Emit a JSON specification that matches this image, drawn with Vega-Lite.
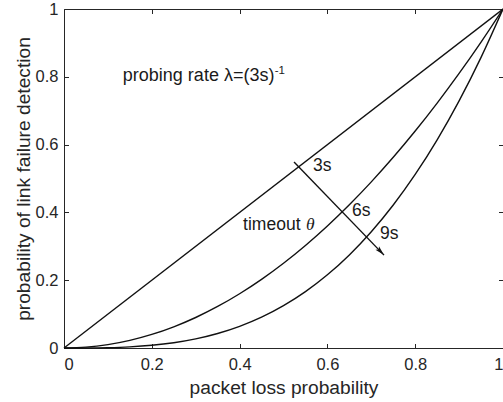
{
  "$schema": "https://vega.github.io/schema/vega-lite/v6.json",
  "width": 439,
  "height": 339,
  "autosize": "none",
  "padding": {"left": 64, "top": 9, "right": 0, "bottom": 54},
  "background": "white",
  "config": {
    "font": "Liberation Sans",
    "view": {"stroke": "#262626", "strokeWidth": 1},
    "axis": {
      "grid": false,
      "domain": false,
      "tickColor": "#262626",
      "tickWidth": 1,
      "tickSize": -4.5,
      "labelColor": "#262626",
      "labelFont": "Liberation Sans",
      "labelFontSize": 16.5,
      "titleColor": "#262626",
      "titleFont": "Liberation Sans",
      "titleFontSize": 19.2,
      "titleFontWeight": "normal"
    }
  },
  "datasets": {
    "curves": [
      {"p": 0, "d": 0, "t": "3s"},
      {"p": 1, "d": 1, "t": "3s"},
      {"p": 0, "d": 0, "t": "6s"},
      {"p": 0.05, "d": 0.0025, "t": "6s"},
      {"p": 0.1, "d": 0.01, "t": "6s"},
      {"p": 0.15, "d": 0.0225, "t": "6s"},
      {"p": 0.2, "d": 0.04, "t": "6s"},
      {"p": 0.25, "d": 0.0625, "t": "6s"},
      {"p": 0.3, "d": 0.09, "t": "6s"},
      {"p": 0.35, "d": 0.1225, "t": "6s"},
      {"p": 0.4, "d": 0.16, "t": "6s"},
      {"p": 0.45, "d": 0.2025, "t": "6s"},
      {"p": 0.5, "d": 0.25, "t": "6s"},
      {"p": 0.55, "d": 0.3025, "t": "6s"},
      {"p": 0.6, "d": 0.36, "t": "6s"},
      {"p": 0.65, "d": 0.4225, "t": "6s"},
      {"p": 0.7, "d": 0.49, "t": "6s"},
      {"p": 0.75, "d": 0.5625, "t": "6s"},
      {"p": 0.8, "d": 0.64, "t": "6s"},
      {"p": 0.85, "d": 0.7225, "t": "6s"},
      {"p": 0.9, "d": 0.81, "t": "6s"},
      {"p": 0.95, "d": 0.9025, "t": "6s"},
      {"p": 1, "d": 1, "t": "6s"},
      {"p": 0, "d": 0, "t": "9s"},
      {"p": 0.05, "d": 0.000125, "t": "9s"},
      {"p": 0.1, "d": 0.001, "t": "9s"},
      {"p": 0.15, "d": 0.003375, "t": "9s"},
      {"p": 0.2, "d": 0.008, "t": "9s"},
      {"p": 0.25, "d": 0.015625, "t": "9s"},
      {"p": 0.3, "d": 0.027, "t": "9s"},
      {"p": 0.35, "d": 0.042875, "t": "9s"},
      {"p": 0.4, "d": 0.064, "t": "9s"},
      {"p": 0.45, "d": 0.091125, "t": "9s"},
      {"p": 0.5, "d": 0.125, "t": "9s"},
      {"p": 0.55, "d": 0.166375, "t": "9s"},
      {"p": 0.6, "d": 0.216, "t": "9s"},
      {"p": 0.65, "d": 0.274625, "t": "9s"},
      {"p": 0.7, "d": 0.343, "t": "9s"},
      {"p": 0.75, "d": 0.421875, "t": "9s"},
      {"p": 0.8, "d": 0.512, "t": "9s"},
      {"p": 0.85, "d": 0.614125, "t": "9s"},
      {"p": 0.9, "d": 0.729, "t": "9s"},
      {"p": 0.95, "d": 0.857375, "t": "9s"},
      {"p": 1, "d": 1, "t": "9s"}
    ],
    "arrow": [
      {"p": 0.524, "d": 0.549},
      {"p": 0.729, "d": 0.274}
    ],
    "arrowhead": [
      {"p": 0.729, "d": 0.274}
    ],
    "labels": [
      {"p": 0.567, "d": 0.537, "label": "3s"},
      {"p": 0.656, "d": 0.404, "label": "6s"},
      {"p": 0.72, "d": 0.336, "label": "9s"},
      {"p": 0.408, "d": 0.363, "label": "timeout"}
    ],
    "rate": [
      {"p": 0.134, "d": 0.802, "label": "probing rate λ=(3s)"}
    ],
    "italic": [
      {"p": 0.551, "d": 0.363, "label": "θ"}
    ],
    "sup": [
      {"p": 0.48, "d": 0.818, "label": "-1"}
    ]
  },
  "layer": [
    {
      "data": {"name": "curves"},
      "mark": {"type": "line", "interpolate": "monotone", "color": "#111111", "strokeWidth": 1.4},
      "encoding": {
        "x": {
          "field": "p", "type": "quantitative",
          "scale": {"domain": [0, 1], "nice": false, "zero": false},
          "axis": {"orient": "bottom", "values": [0, 0.2, 0.4, 0.6, 0.8, 1], "format": "~g", "title": "packet loss probability", "labelPadding": 12.5, "titleX": 219.5, "titleY": 30.5, "titleBaseline": "top"}
        },
        "y": {
          "field": "d", "type": "quantitative",
          "scale": {"domain": [0, 1], "nice": false, "zero": false},
          "axis": {"orient": "left", "values": [0, 0.2, 0.4, 0.6, 0.8, 1], "format": "~g", "title": "probability of link failure detection", "labelPadding": 10.5, "titleX": -31, "titleY": 169.5, "titleBaseline": "bottom"}
        },
        "detail": {"field": "t"}
      }
    },
    {
      "data": {"name": "curves"},
      "mark": {"type": "line", "opacity": 0},
      "encoding": {
        "x": {"field": "p", "type": "quantitative", "axis": {"orient": "top", "values": [0, 0.2, 0.4, 0.6, 0.8, 1], "labels": false, "title": null}},
        "y": {"field": "d", "type": "quantitative", "axis": {"orient": "right", "values": [0, 0.2, 0.4, 0.6, 0.8, 1], "labels": false, "title": null}},
        "detail": {"field": "t"}
      }
    },
    {
      "data": {"name": "arrow"},
      "mark": {"type": "line", "color": "#111111", "strokeWidth": 1.4},
      "encoding": {
        "x": {"field": "p", "type": "quantitative", "axis": null},
        "y": {"field": "d", "type": "quantitative", "axis": null}
      }
    },
    {
      "data": {"name": "arrowhead"},
      "mark": {"type": "point", "shape": "M0,0 L-0.4,1.6 L0,1.25 L0.4,1.6 Z", "filled": true, "color": "#111111", "opacity": 1, "size": 150, "angle": 136},
      "encoding": {
        "x": {"field": "p", "type": "quantitative", "axis": null},
        "y": {"field": "d", "type": "quantitative", "axis": null}
      }
    },
    {
      "data": {"name": "labels"},
      "mark": {"type": "text", "align": "left", "baseline": "middle", "fontSize": 17.5, "color": "#1a1a1a", "font": "Liberation Sans"},
      "encoding": {
        "x": {"field": "p", "type": "quantitative", "axis": null},
        "y": {"field": "d", "type": "quantitative", "axis": null},
        "text": {"field": "label"}
      }
    },
    {
      "data": {"name": "rate"},
      "mark": {"type": "text", "align": "left", "baseline": "middle", "fontSize": 18, "color": "#1a1a1a", "font": "Liberation Sans"},
      "encoding": {
        "x": {"field": "p", "type": "quantitative", "axis": null},
        "y": {"field": "d", "type": "quantitative", "axis": null},
        "text": {"field": "label"}
      }
    },
    {
      "data": {"name": "italic"},
      "mark": {"type": "text", "align": "left", "baseline": "middle", "fontSize": 17.5, "fontStyle": "italic", "color": "#1a1a1a", "font": "Liberation Serif"},
      "encoding": {
        "x": {"field": "p", "type": "quantitative", "axis": null},
        "y": {"field": "d", "type": "quantitative", "axis": null},
        "text": {"field": "label"}
      }
    },
    {
      "data": {"name": "sup"},
      "mark": {"type": "text", "align": "left", "baseline": "middle", "fontSize": 11.5, "color": "#1a1a1a", "font": "Liberation Sans"},
      "encoding": {
        "x": {"field": "p", "type": "quantitative", "axis": null},
        "y": {"field": "d", "type": "quantitative", "axis": null},
        "text": {"field": "label"}
      }
    }
  ],
  "resolve": {"axis": {"x": "independent", "y": "independent"}}
}
